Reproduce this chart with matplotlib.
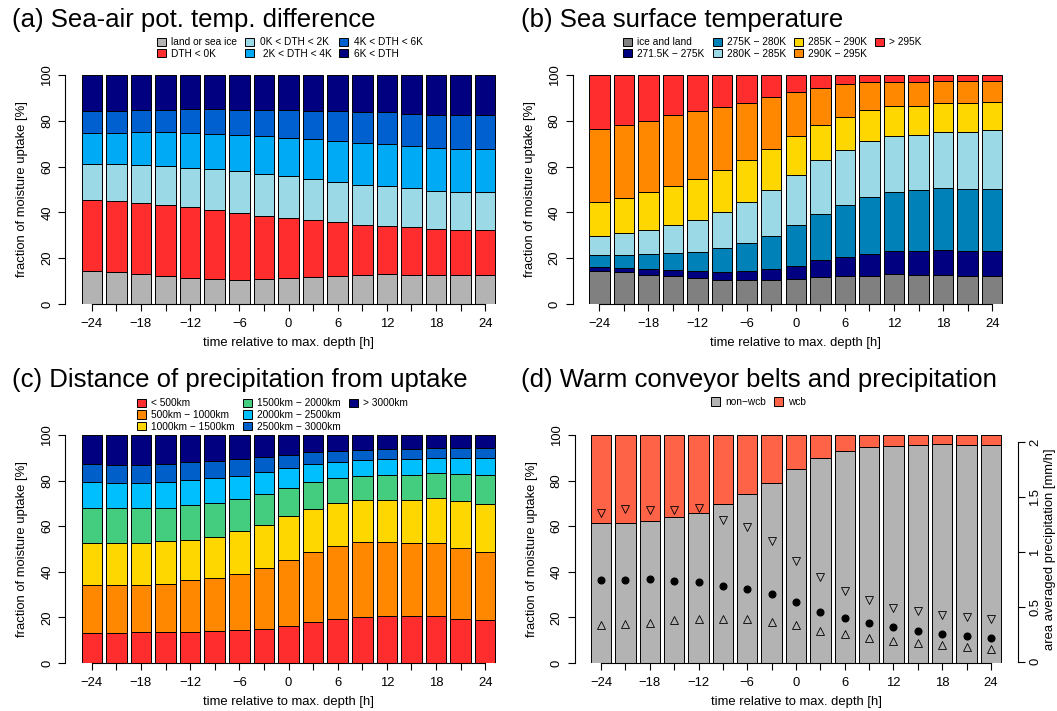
import numpy as np
import matplotlib
matplotlib.use("Agg")
import matplotlib.pyplot as plt
from matplotlib.patches import Patch

plt.rcParams['font.family'] = ['Liberation Sans', 'DejaVu Sans']

MINUS = '\u2212'

# hours relative to the time of maximum depth
times = [-24, -21, -18, -15, -12, -9, -6, -3, 0, 3, 6, 9, 12, 15, 18, 21, 24]

# (a) sea-air potential temperature difference, % of uptake
dth_land = [14.4, 13.8, 13.0, 12.2, 11.5, 10.8, 10.5, 10.8, 11.2, 12.0, 12.4, 12.5, 13.1, 12.8, 12.8, 12.5, 12.5]
dth_neg = [30.9, 31.0, 31.0, 30.9, 30.8, 30.3, 29.3, 27.5, 26.3, 24.6, 23.3, 21.9, 20.9, 20.7, 19.9, 19.6, 19.7]
dth_0_2 = [15.8, 16.3, 16.6, 17.0, 17.3, 17.8, 18.1, 18.4, 18.2, 17.9, 17.7, 17.5, 17.5, 17.1, 16.7, 16.6, 16.6]
dth_2_4 = [13.4, 13.4, 14.5, 15.0, 15.2, 15.3, 15.9, 16.6, 16.9, 17.5, 17.7, 18.4, 18.3, 18.6, 18.7, 18.9, 18.8]
dth_4_6 = [9.6, 9.6, 9.4, 9.7, 10.3, 10.9, 11.0, 11.2, 11.9, 12.4, 13.0, 13.4, 13.9, 13.9, 14.4, 14.8, 15.1]
dth_6up = [15.9, 15.9, 15.5, 15.2, 14.9, 14.9, 15.2, 15.5, 15.5, 15.6, 15.9, 16.3, 16.3, 16.9, 17.5, 17.6, 17.3]
labels_a = ['land or sea ice', 'DTH < 0K', '0K < DTH < 2K', ' 2K < DTH < 4K', '4K < DTH < 6K', '6K < DTH']
colors_a = ['#b3b3b3', '#ff2d2d', '#9ad9e5', '#00aaf4', '#0060d0', '#000080']

# (b) sea surface temperature
sst_land = [14.4, 13.8, 12.8, 12.1, 11.4, 10.6, 10.3, 10.6, 11.1, 11.8, 12.2, 12.4, 13.0, 12.8, 12.7, 12.4, 12.4]
sst_2715 = [1.8, 2.1, 2.5, 2.8, 2.9, 3.4, 4.1, 4.7, 5.7, 7.2, 8.4, 9.3, 10.3, 10.5, 10.9, 10.9, 10.6]
sst_275 = [5.1, 5.5, 6.6, 7.3, 8.4, 10.3, 12.3, 14.6, 17.6, 20.4, 22.5, 25.1, 25.7, 26.4, 27.0, 27.0, 27.3]
sst_280 = [8.3, 9.5, 10.5, 12.2, 14.0, 15.9, 17.9, 20.0, 22.0, 23.4, 24.1, 24.3, 24.3, 24.1, 24.5, 24.8, 25.6]
sst_285 = [14.9, 15.5, 16.4, 17.2, 17.8, 18.3, 18.2, 17.7, 16.9, 15.3, 14.4, 13.7, 13.1, 12.6, 12.7, 12.7, 12.3]
sst_290 = [31.9, 31.7, 31.1, 30.8, 29.8, 27.5, 25.1, 22.8, 19.3, 16.4, 14.3, 12.0, 10.7, 10.7, 9.7, 9.7, 9.3]
sst_295 = [23.6, 21.9, 20.1, 17.6, 15.7, 14.0, 12.1, 9.6, 7.4, 5.5, 4.1, 3.2, 2.9, 2.9, 2.5, 2.5, 2.5]
labels_b = ['ice and land', '271.5K ' + MINUS + ' 275K', '275K ' + MINUS + ' 280K', '280K ' + MINUS + ' 285K',
            '285K ' + MINUS + ' 290K', '290K ' + MINUS + ' 295K', '> 295K']
colors_b = ['#808080', '#000080', '#0082b8', '#9ad9e5', '#ffd700', '#ff8800', '#ff2d2d']

# (c) distance between uptake and precipitation
dist_500 = [13.3, 13.3, 13.4, 13.6, 13.8, 14.0, 14.4, 14.9, 16.2, 17.8, 19.2, 20.1, 20.8, 20.6, 20.4, 19.5, 18.7]
dist_1000 = [21.1, 20.7, 21.0, 21.2, 22.5, 23.3, 24.8, 26.8, 28.8, 30.9, 32.0, 32.8, 32.4, 32.2, 32.1, 31.1, 30.1]
dist_1500 = [18.4, 18.8, 18.4, 18.6, 17.8, 18.1, 18.8, 18.9, 19.4, 18.9, 18.9, 18.5, 18.4, 18.8, 19.7, 20.5, 21.0]
dist_2000 = [15.1, 15.0, 15.0, 14.8, 15.0, 14.9, 14.0, 13.5, 12.4, 11.8, 11.1, 10.7, 10.9, 10.9, 11.2, 11.8, 12.6]
dist_2500 = [11.5, 11.2, 11.2, 11.2, 11.2, 10.7, 10.1, 9.7, 8.8, 7.9, 7.0, 7.0, 6.9, 6.9, 6.5, 7.0, 7.3]
dist_3000 = [7.9, 7.7, 7.9, 7.9, 7.7, 7.6, 7.3, 6.4, 5.8, 5.3, 4.7, 4.3, 4.3, 4.3, 4.3, 4.3, 4.5]
dist_far = [12.7, 13.3, 13.1, 12.7, 12.0, 11.4, 10.6, 9.8, 8.6, 7.4, 7.1, 6.6, 6.3, 6.3, 5.8, 5.8, 5.8]
labels_c = ['< 500km', '500km ' + MINUS + ' 1000km', '1000km ' + MINUS + ' 1500km', '1500km ' + MINUS + ' 2000km',
            '2000km ' + MINUS + ' 2500km', '2500km ' + MINUS + ' 3000km', '> 3000km']
colors_c = ['#ff2d2d', '#ff8800', '#ffd700', '#45cd7f', '#00bfff', '#005fc8', '#000080']

# (d) warm conveyor belts and precipitation
non_wcb = [61.2, 61.2, 62.4, 64.1, 66.0, 69.6, 74.0, 78.8, 85.1, 89.7, 92.9, 94.6, 95.1, 95.4, 96.0, 95.7, 95.7]
wcb = [38.8, 38.8, 37.6, 35.9, 34.0, 30.4, 26.0, 21.2, 14.9, 10.3, 7.1, 5.4, 4.9, 4.6, 4.0, 4.3, 4.3]
labels_d = ['non' + MINUS + 'wcb', 'wcb']
colors_d = ['#b3b3b3', '#ff6347']
precip_mean = [0.749, 0.746, 0.752, 0.740, 0.728, 0.694, 0.664, 0.618, 0.547, 0.456, 0.398, 0.355, 0.312, 0.284, 0.254, 0.232, 0.217]
precip_high = [1.355, 1.388, 1.382, 1.385, 1.398, 1.291, 1.229, 1.098, 0.920, 0.774, 0.648, 0.560, 0.492, 0.465, 0.425, 0.407, 0.385]
precip_low = [0.330, 0.343, 0.352, 0.379, 0.388, 0.385, 0.388, 0.358, 0.333, 0.284, 0.251, 0.217, 0.187, 0.168, 0.150, 0.135, 0.116]

W, H = 1057, 711
fig = plt.figure(figsize=(W / 100, H / 100), dpi=100)
FS = 9.4


def px_axes(left, top, right, bottom):
    return fig.add_axes([left / W, 1 - bottom / H, (right - left) / W, (bottom - top) / H])


def style_axes(ax):
    ax.set_xlim(-27.27, 27.27)
    ax.set_ylim(0, 100)
    for s in ['top', 'right']:
        ax.spines[s].set_visible(False)
    ax.spines['left'].set_bounds(0, 100)
    ax.spines['bottom'].set_bounds(times[0], times[-1])
    for s in ['left', 'bottom']:
        ax.spines[s].set_linewidth(0.8)
    ax.set_xticks(times)
    ax.set_xticklabels([str(t).replace('-', MINUS) if t % 6 == 0 else '' for t in times])
    ax.set_yticks([0, 20, 40, 60, 80, 100])
    ax.set_yticklabels(['0', '20', '40', '60', '80', '100'])
    ax.tick_params(direction='out', length=5, width=0.8, labelsize=FS)
    ax.tick_params(axis='x', pad=5)
    ax.tick_params(axis='y', pad=3.5)
    for lab in ax.get_yticklabels():
        lab.set_rotation(90)
        lab.set_va('center')
    ax.set_xlabel('time relative to max. depth [h]', fontsize=FS, labelpad=5)
    ax.set_ylabel('fraction of moisture uptake [%]', fontsize=FS, labelpad=9.5)


def stacked(ax, parts, colors):
    bottom = np.zeros(len(times))
    for vals, col in zip(parts, colors):
        ax.bar(times, vals, width=2.5, bottom=bottom, color=col,
               edgecolor='black', linewidth=0.7)
        bottom += np.array(vals)


def add_legend(ax, labels, colors, ncol, x, y, blanks=0):
    handles = [Patch(facecolor=c, edgecolor='black', linewidth=0.7) for c in colors]
    labels = list(labels)
    # empty slots so the columns fill like the original (3 + 3 + 1)
    for _ in range(blanks):
        handles.append(Patch(visible=False))
        labels.append('')
    ax.legend(handles, labels, ncol=ncol, loc='center left',
              bbox_to_anchor=(x / W, 1 - y / H), bbox_transform=fig.transFigure,
              frameon=False, fontsize=7.3, handlelength=0.9, handleheight=0.9,
              handletextpad=0.5, columnspacing=0.8, labelspacing=0.15,
              borderpad=0, borderaxespad=0)


def title(x, y, text):
    fig.text(x / W, 1 - y / H, text, fontsize=18.5, ha='left', va='baseline')


# (a)
ax_a = px_axes(65, 75, 512, 304)
stacked(ax_a, [dth_land, dth_neg, dth_0_2, dth_2_4, dth_4_6, dth_6up], colors_a)
style_axes(ax_a)
add_legend(ax_a, labels_a, colors_a, 3, 157, 48)
title(12, 27, '(a) Sea-air pot. temp. difference')

# (b)
ax_b = px_axes(572.5, 75, 1019, 304)
stacked(ax_b, [sst_land, sst_2715, sst_275, sst_280, sst_285, sst_290, sst_295], colors_b)
style_axes(ax_b)
add_legend(ax_b, labels_b, colors_b, 4, 623, 48)
title(521, 27, '(b) Sea surface temperature')

# (c)
ax_c = px_axes(65, 435, 512, 663)
stacked(ax_c, [dist_500, dist_1000, dist_1500, dist_2000, dist_2500, dist_3000, dist_far], colors_c)
style_axes(ax_c)
add_legend(ax_c, labels_c, colors_c, 3, 137, 415, blanks=2)
title(12, 387, '(c) Distance of precipitation from uptake')

# (d)
ax_d = px_axes(574.5, 435, 1017.5, 663)
stacked(ax_d, [non_wcb, wcb], colors_d)
style_axes(ax_d)
add_legend(ax_d, labels_d, colors_d, 2, 711, 402)
title(521, 387, '(d) Warm conveyor belts and precipitation')

ax_p = ax_d.twinx()
ax_p.set_ylim(-0.012, 2.067)
for s in ['top', 'left', 'bottom']:
    ax_p.spines[s].set_visible(False)
ax_p.spines['right'].set_bounds(0, 2)
ax_p.spines['right'].set_linewidth(0.8)
ax_p.plot(times, precip_mean, 'o', color='black', markersize=4.8)
ax_p.plot(times, precip_high, 'v', markerfacecolor='none', markeredgecolor='black',
          markersize=5.5, markeredgewidth=0.6)
ax_p.plot(times, precip_low, '^', markerfacecolor='none', markeredgecolor='black',
          markersize=5.5, markeredgewidth=0.6)
ax_p.set_yticks([0, 0.5, 1, 1.5, 2])
ax_p.set_yticklabels(['0', '0.5', '1', '1.5', '2'])
ax_p.tick_params(direction='out', length=5, width=0.8, labelsize=FS, pad=3.5)
for lab in ax_p.get_yticklabels():
    lab.set_rotation(90)
    lab.set_va('center')
ax_p.set_ylabel('area averaged precipitation [mm/h]', fontsize=FS, labelpad=2, rotation=90)

fig.savefig('out.png', dpi=100)
